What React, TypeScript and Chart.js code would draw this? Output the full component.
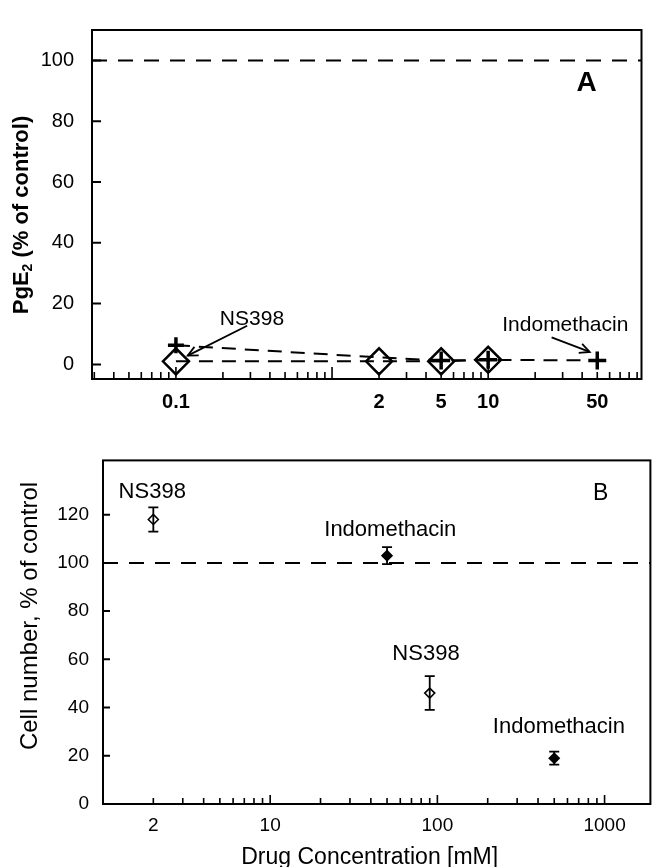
import React, { useEffect, useRef } from 'react';
import { Chart, registerables } from 'chart.js';
Chart.register(...registerables);

const FONT = '"Liberation Sans", Arial, Helvetica, sans-serif';

// ---------- Panel A data ----------
const A_X_MIN = 0.029;
const A_X_MAX = 96;
const A_Y_MIN = -4.8;
const A_Y_MAX = 110;
const A_Y_TICKS = [0, 20, 40, 60, 80, 100];
const A_X_LABELS = [0.1, 2, 5, 10, 50];
const A_NS398_X = [0.1, 2, 5, 10];
const A_NS398_Y = [1, 1, 1, 1.5];
const A_INDO_X = [0.1, 2, 5, 10, 50];
const A_INDO_Y = [6.3, 2.3, 1.3, 1.5, 1.3];
const A_INDO_MARKED = [true, false, true, true, true];
const CONTROL_LEVEL = 100;

// ---------- Panel B data ----------
const B_X_MIN = 1;
const B_X_MAX = 1880;
const B_Y_MIN = 0;
const B_Y_MAX = 142.5;
const B_Y_TICKS = [0, 20, 40, 60, 80, 100, 120];
const B_X_LABELS = [2, 10, 100, 1000];
const B_NS398_X = [2, 90];
const B_NS398_Y = [118, 46];
const B_NS398_ERR = [5, 7];
const B_INDO_X = [50, 500];
const B_INDO_Y = [103, 19];
const B_INDO_ERR = [3.5, 2.7];

// annotation anchors (data coordinates)
const A_NOTES = [
  { text: 'NS398', at: [0.307, 14.9], from: [0.286, 12.7], to: [0.119, 2.9] },
  { text: 'Indomethacin', at: [31.2, 13], from: [25.5, 8.9], to: [44.7, 4.1] },
];
const A_PANEL = { text: 'A', at: [42.8, 92.4] };
const B_NOTES = [
  { text: 'NS398', at: [1.97, 129.5] },
  { text: 'Indomethacin', at: [52.3, 113.6] },
  { text: 'NS398', at: [85.5, 62.4] },
  { text: 'Indomethacin', at: [533, 31.8] },
];
const B_PANEL = { text: 'B', at: [947, 128.7] };

function logTicks(min: number, max: number): number[] {
  const out: number[] = [];
  const e0 = Math.floor(Math.log10(min));
  const e1 = Math.ceil(Math.log10(max));
  for (let e = e0; e <= e1; e++) {
    for (let m = 1; m <= 9; m++) {
      const v = parseFloat((m * Math.pow(10, e)).toPrecision(8));
      if (v >= min * 0.9999 && v <= max * 1.0001) out.push(v);
    }
  }
  return out;
}
const isDecade = (v: number) => Math.abs(Math.log10(v) - Math.round(Math.log10(v))) < 1e-9;
const inList = (list: number[], v: number) => list.some((l) => Math.abs(l - v) / l < 1e-6);

function arrow(ctx: CanvasRenderingContext2D, x1: number, y1: number, x2: number, y2: number, head = 11) {
  ctx.beginPath();
  ctx.moveTo(x1, y1);
  ctx.lineTo(x2, y2);
  ctx.stroke();
  const a = Math.atan2(y2 - y1, x2 - x1);
  ctx.beginPath();
  ctx.moveTo(x2 - head * Math.cos(a - 0.45), y2 - head * Math.sin(a - 0.45));
  ctx.lineTo(x2, y2);
  ctx.lineTo(x2 - head * Math.cos(a + 0.45), y2 - head * Math.sin(a + 0.45));
  ctx.stroke();
}

function drawFrameAndTicks(chart: any, xMinor: number, xMajor: number, yLen: number, frameW: number) {
  const { ctx, chartArea } = chart;
  const { left, right, top, bottom } = chartArea;
  const xs = chart.scales.x;
  const ys = chart.scales.y;
  ctx.save();
  ctx.strokeStyle = '#000';
  ctx.lineWidth = frameW;
  ctx.strokeRect(left, top, right - left, bottom - top);
  ctx.lineWidth = 1.6;
  ctx.beginPath();
  xs.ticks.forEach((t: any) => {
    const px = xs.getPixelForValue(t.value);
    if (px < left + 1 || px > right - 1) return;
    const len = isDecade(t.value) ? xMajor : xMinor;
    ctx.moveTo(px, bottom);
    ctx.lineTo(px, bottom - len);
  });
  ctx.stroke();
  ctx.lineWidth = 2;
  ctx.beginPath();
  ys.ticks.forEach((t: any) => {
    const py = ys.getPixelForValue(t.value);
    ctx.moveTo(left, py);
    ctx.lineTo(left + yLen, py);
  });
  ctx.stroke();
  ctx.restore();
}

function controlLine(chart: any, dash: number[]) {
  const { ctx, chartArea } = chart;
  const py = chart.scales.y.getPixelForValue(CONTROL_LEVEL);
  ctx.save();
  ctx.strokeStyle = '#000';
  ctx.lineWidth = 2;
  ctx.setLineDash(dash);
  ctx.beginPath();
  ctx.moveTo(chartArea.left, py);
  ctx.lineTo(chartArea.right, py);
  ctx.stroke();
  ctx.restore();
}

const plugA = {
  id: 'panelA',
  beforeDatasetsDraw(chart: any) {
    controlLine(chart, [15, 11]);
  },
  afterDraw(chart: any) {
    const { ctx } = chart;
    const xs = chart.scales.x;
    const ys = chart.scales.y;
    drawFrameAndTicks(chart, 7, 12, 9, 2);
    ctx.save();
    ctx.fillStyle = '#000';
    ctx.strokeStyle = '#000';
    ctx.textAlign = 'center';
    ctx.textBaseline = 'middle';
    ctx.font = `21px ${FONT}`;
    A_NOTES.forEach((n) => {
      ctx.fillText(n.text, xs.getPixelForValue(n.at[0]), ys.getPixelForValue(n.at[1]));
      ctx.lineWidth = 1.8;
      arrow(ctx, xs.getPixelForValue(n.from[0]), ys.getPixelForValue(n.from[1]),
        xs.getPixelForValue(n.to[0]), ys.getPixelForValue(n.to[1]));
    });
    ctx.font = `bold 28px ${FONT}`;
    ctx.fillText(A_PANEL.text, xs.getPixelForValue(A_PANEL.at[0]), ys.getPixelForValue(A_PANEL.at[1]));
    // y title with subscript
    ctx.translate(22, 215);
    ctx.rotate(-Math.PI / 2);
    const big = `bold 22px ${FONT}`;
    const small = `bold 14px ${FONT}`;
    const p1 = 'PgE', p2 = '2', p3 = ' (% of control)';
    ctx.font = big; const w1 = ctx.measureText(p1).width; const w3 = ctx.measureText(p3).width;
    ctx.font = small; const w2 = ctx.measureText(p2).width;
    let x0 = -(w1 + w2 + w3) / 2;
    ctx.textAlign = 'left';
    ctx.font = big; ctx.fillText(p1, x0, 0); x0 += w1;
    ctx.font = small; ctx.fillText(p2, x0, 6); x0 += w2;
    ctx.font = big; ctx.fillText(p3, x0, 0);
    ctx.restore();
  },
};

const plugB = {
  id: 'panelB',
  beforeDatasetsDraw(chart: any) {
    controlLine(chart, [15, 11]);
  },
  afterDatasetsDraw(chart: any) {
    const { ctx } = chart;
    const xs = chart.scales.x;
    const ys = chart.scales.y;
    ctx.save();
    ctx.strokeStyle = '#000';
    ctx.lineWidth = 1.8;
    chart.data.datasets.forEach((ds: any) => {
      ds.data.forEach((p: any) => {
        const px = xs.getPixelForValue(p.x);
        const y1 = ys.getPixelForValue(p.y + p.err);
        const y2 = ys.getPixelForValue(p.y - p.err);
        ctx.beginPath();
        ctx.moveTo(px, y1); ctx.lineTo(px, y2);
        ctx.moveTo(px - 5, y1); ctx.lineTo(px + 5, y1);
        ctx.moveTo(px - 5, y2); ctx.lineTo(px + 5, y2);
        ctx.stroke();
      });
    });
    ctx.restore();
  },
  afterDraw(chart: any) {
    const { ctx, chartArea } = chart;
    const xs = chart.scales.x;
    const ys = chart.scales.y;
    drawFrameAndTicks(chart, 6, 9, 7, 2);
    ctx.save();
    ctx.fillStyle = '#000';
    ctx.textAlign = 'center';
    ctx.textBaseline = 'middle';
    ctx.font = `22px ${FONT}`;
    B_NOTES.forEach((n) => {
      ctx.fillText(n.text, xs.getPixelForValue(n.at[0]), ys.getPixelForValue(n.at[1]));
    });
    ctx.font = `23px ${FONT}`;
    ctx.fillText(B_PANEL.text, xs.getPixelForValue(B_PANEL.at[0]), ys.getPixelForValue(B_PANEL.at[1]));
    ctx.font = `23px ${FONT}`;
    ctx.fillText('Drug Concentration [mM]', (chartArea.left + chartArea.right) / 2 - 7, chart.height - 9);
    ctx.translate(30, 181);
    ctx.rotate(-Math.PI / 2);
    ctx.font = `24px ${FONT}`;
    ctx.fillText('Cell number, % of control', 0, 0);
    ctx.restore();
  },
};

const tickFont = (size: number, bold = false) => ({ family: FONT, size, weight: bold ? 'bold' : 'normal' } as any);

const configA: any = {
  type: 'scatter',
  data: {
    datasets: [
      {
        label: 'Indomethacin',
        data: A_INDO_X.map((x, i) => ({ x, y: A_INDO_Y[i] })),
        showLine: true,
        borderColor: '#000',
        borderWidth: 2,
        borderDash: [14, 9],
        pointStyle: 'cross',
        pointRadius: A_INDO_MARKED.map((m, i) => (m ? (i === 0 ? 8 : 9) : 0)),
        pointBorderWidth: 3.5,
        pointBorderColor: '#000',
        pointBackgroundColor: '#000',
      },
      {
        label: 'NS398',
        data: A_NS398_X.map((x, i) => ({ x, y: A_NS398_Y[i] })),
        showLine: true,
        borderColor: '#000',
        borderWidth: 2,
        borderDash: [14, 9],
        pointStyle: 'rectRot',
        pointRadius: 13,
        pointBorderWidth: 2.5,
        pointBorderColor: '#000',
        pointBackgroundColor: 'rgba(255,255,255,0)',
      },
    ],
  },
  options: {
    responsive: false,
    animation: false,
    devicePixelRatio: 1,
    layout: { padding: { top: 17, right: 2, left: 0, bottom: 0 } },
    plugins: { legend: { display: false }, tooltip: { enabled: false } },
    scales: {
      x: {
        type: 'logarithmic',
        min: A_X_MIN,
        max: A_X_MAX,
        grid: { display: false, drawTicks: false },
        border: { display: false },
        afterBuildTicks: (s: any) => { s.ticks = logTicks(A_X_MIN, A_X_MAX).map((v) => ({ value: v })); },
        afterFit: (s: any) => { s.height = 56; },
        ticks: {
          autoSkip: false, maxRotation: 0, minRotation: 0, padding: 11, color: '#000',
          font: tickFont(20, true),
          callback: (v: number) => (inList(A_X_LABELS, v) ? String(v) : ''),
        },
      },
      y: {
        type: 'linear',
        min: A_Y_MIN,
        max: A_Y_MAX,
        grid: { display: false, drawTicks: false },
        border: { display: false },
        afterBuildTicks: (s: any) => { s.ticks = A_Y_TICKS.map((v) => ({ value: v })); },
        afterFit: (s: any) => { s.width = 92; },
        ticks: { padding: 18, color: '#000', font: tickFont(20), callback: (v: number) => String(v) },
      },
    },
  },
  plugins: [plugA],
};

const configB: any = {
  type: 'scatter',
  data: {
    datasets: [
      {
        label: 'Indomethacin',
        data: B_INDO_X.map((x, i) => ({ x, y: B_INDO_Y[i], err: B_INDO_ERR[i] })),
        pointStyle: 'rectRot',
        pointRadius: 5,
        pointBorderWidth: 1.5,
        pointBorderColor: '#000',
        pointBackgroundColor: '#000',
      },
      {
        label: 'NS398',
        data: B_NS398_X.map((x, i) => ({ x, y: B_NS398_Y[i], err: B_NS398_ERR[i] })),
        pointStyle: 'rectRot',
        pointRadius: 5,
        pointBorderWidth: 1.6,
        pointBorderColor: '#000',
        pointBackgroundColor: '#fff',
      },
    ],
  },
  options: {
    responsive: false,
    animation: false,
    devicePixelRatio: 1,
    layout: { padding: { top: 10, right: 2, left: 0, bottom: 0 } },
    plugins: { legend: { display: false }, tooltip: { enabled: false } },
    scales: {
      x: {
        type: 'logarithmic',
        min: B_X_MIN,
        max: B_X_MAX,
        grid: { display: false, drawTicks: false },
        border: { display: false },
        afterBuildTicks: (s: any) => { s.ticks = logTicks(B_X_MIN, B_X_MAX).map((v) => ({ value: v })); },
        afterFit: (s: any) => { s.height = 63; },
        ticks: {
          autoSkip: false, maxRotation: 0, minRotation: 0, padding: 10, color: '#000',
          font: tickFont(19),
          callback: (v: number) => (inList(B_X_LABELS, v) ? String(v) : ''),
        },
      },
      y: {
        type: 'linear',
        min: B_Y_MIN,
        max: B_Y_MAX,
        grid: { display: false, drawTicks: false },
        border: { display: false },
        afterBuildTicks: (s: any) => { s.ticks = B_Y_TICKS.map((v) => ({ value: v })); },
        afterFit: (s: any) => { s.width = 103; },
        ticks: { padding: 14, color: '#000', font: tickFont(19), callback: (v: number) => String(v) },
      },
    },
  },
  plugins: [plugB],
};

export default function App() {
  const refA = useRef<HTMLCanvasElement>(null);
  const refB = useRef<HTMLCanvasElement>(null);
  useEffect(() => {
    const a = new Chart(refA.current as HTMLCanvasElement, configA);
    const b = new Chart(refB.current as HTMLCanvasElement, configB);
    return () => { a.destroy(); b.destroy(); };
  }, []);
  return (
    <div style={{ position: 'absolute', left: 0, top: 0, width: 657, height: 867, background: '#fff' }}>
      <canvas ref={refA} width={657} height={435} style={{ position: 'absolute', left: 0, top: 0, width: 657, height: 435 }} />
      <canvas ref={refB} width={657} height={432} style={{ position: 'absolute', left: 0, top: 435, width: 657, height: 432 }} />
    </div>
  );
}
